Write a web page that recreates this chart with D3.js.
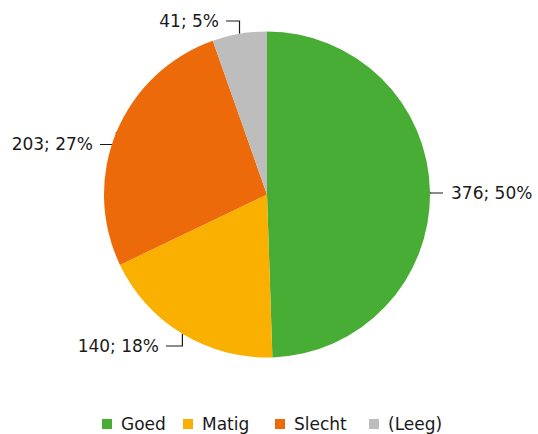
<!DOCTYPE html>
<meta charset="utf-8">
<script src="https://d3js.org/d3.v7.min.js"></script>
<style>
  body { margin: 0; background: #fff; }
  text { font-family: "DejaVu Sans", sans-serif; font-size: 17px; fill: #1a1a1a; }
</style>
<div id="my_dataviz"></div>
<script>

// data
var categories = ["Goed", "Matig", "Slecht", "(Leeg)"];
var values = [376, 140, 203, 41];
var percents = ["50%", "18%", "27%", "5%"];
var colors = ["#48ad34", "#f9b000", "#ec6a0a", "#bdbdbd"];

var width = 538, height = 434;
var cx = 267, cy = 194.5, r = 163;

var svg = d3.select("#my_dataviz")
  .append("svg")
    .attr("width", width)
    .attr("height", height);

var g = svg.append("g").attr("transform", "translate(" + cx + "," + cy + ")");

var pie = d3.pie().sort(null).value(function(d) { return d.value; });
var arc = d3.arc().innerRadius(0).outerRadius(r);

var data = categories.map(function(c, i) {
  return { name: c, value: values[i], pct: percents[i], color: colors[i] };
});
var arcs = pie(data);

// label placement per slice (relative to the centre)
var labelPos = [
  { x: 184, y: -1.5, anchor: "start" },
  { x: -108, y: 151.5, anchor: "end" },
  { x: -174, y: -50, anchor: "end" },
  { x: -48, y: -173.5, anchor: "end" }
];

// leader lines (drawn below the pie, so parts inside get covered)
arcs.forEach(function(a, i) {
  var mid = (a.startAngle + a.endAngle) / 2;
  var px = Math.sin(mid) * r, py = -Math.cos(mid) * r;
  var lp = labelPos[i];
  var lx = lp.anchor === "start" ? lp.x - 8 : lp.x + 7;
  var pts = [[lx, lp.y], [px, lp.y], [px, py]];
  g.append("path")
    .attr("d", d3.line()(pts))
    .attr("fill", "none")
    .attr("stroke", "#1a1a1a")
    .attr("stroke-width", 1.2);
});

// slices
g.selectAll("path.slice")
  .data(arcs)
  .enter()
  .append("path")
    .attr("class", "slice")
    .attr("d", arc)
    .attr("fill", function(d) { return d.data.color; });

// labels
g.selectAll("text.lbl")
  .data(arcs)
  .enter()
  .append("text")
    .attr("class", "lbl")
    .attr("x", function(d, i) { return labelPos[i].x; })
    .attr("y", function(d, i) { return labelPos[i].y; })
    .attr("dy", "0.35em")
    .attr("text-anchor", function(d, i) { return labelPos[i].anchor; })
    .text(function(d) { return d.data.value + "; " + d.data.pct; });

// legend
var legendX = [102, 183, 275, 369];
var legend = svg.append("g").attr("transform", "translate(0,424)");
data.forEach(function(d, i) {
  var item = legend.append("g").attr("transform", "translate(" + legendX[i] + ",0)");
  item.append("rect")
    .attr("x", 0).attr("y", -5)
    .attr("width", 10).attr("height", 10)
    .attr("fill", d.color);
  item.append("text")
    .attr("x", 19)
    .attr("y", 0)
    .attr("dy", "0.35em")
    .text(d.name);
});

</script>
